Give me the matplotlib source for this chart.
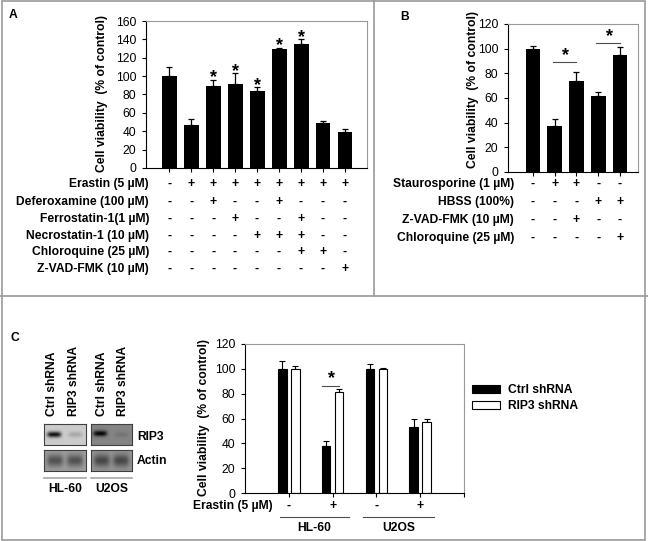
import numpy as np
import matplotlib
matplotlib.use('Agg')
import matplotlib.pyplot as plt
from matplotlib.transforms import blended_transform_factory
from matplotlib.lines import Line2D
from matplotlib.patches import Rectangle

plt.rcParams['font.family'] = ['Liberation Sans', 'DejaVu Sans']
FS = 8.7
STAR_FS = 13

# ---------------- data ----------------
a_values = [100, 47, 89, 91, 84, 129, 135, 49, 39]
a_errors = [10, 6, 7, 12, 4, 2, 5, 2, 3]
a_sig = [False, False, True, True, True, True, True, False, False]
a_rows = ["Erastin (5 µM)", "Deferoxamine (100 µM)", "Ferrostatin-1(1 µM)",
          "Necrostatin-1 (10 µM)", "Chloroquine (25 µM)", "Z-VAD-FMK (10 µM)"]
a_signs = ["-++++++++", "--+--+---", "---+--+--", "----+++--", "------++-", "--------+"]

b_values = [100, 37, 74, 62, 95]
b_errors = [2, 6, 7, 3, 6]
b_rows = ["Staurosporine (1 µM)", "HBSS (100%)", "Z-VAD-FMK (10 µM)", "Chloroquine (25 µM)"]
b_signs = ["-++--", "---++", "--+--", "----+"]
b_brackets = [(1, 2, 89), (3, 4, 105)]

c_ctrl = [100, 38, 100, 53]
c_ctrl_err = [6, 4, 4, 7]
c_rip3 = [100, 81, 100, 57]
c_rip3_err = [2, 3, 1, 3]
c_erastin = ["-", "+", "-", "+"]
c_groups = ["HL-60", "U2OS"]
c_series = ["Ctrl shRNA", "RIP3 shRNA"]
blot_lanes = ["Ctrl shRNA", "RIP3 shRNA", "Ctrl shRNA", "RIP3 shRNA"]
blot_rows = ["RIP3", "Actin"]

W, H = 648, 541
fig = plt.figure(figsize=(W / 100, H / 100), dpi=100)


def fx(x):
    return x / W


def fy(y):
    return 1 - y / H


def add_ax(x0, y0, x1, y1):
    return fig.add_axes([fx(x0), fy(y1), (x1 - x0) / W, (y1 - y0) / H])


def style_axes(ax):
    for s in ['top', 'right']:
        ax.spines[s].set_color('0.6')
        ax.spines[s].set_linewidth(0.8)
    for s in ['left', 'bottom']:
        ax.spines[s].set_color('black')
        ax.spines[s].set_linewidth(0.8)
    ax.tick_params(axis='y', direction='out', length=3, width=0.8, labelsize=FS, pad=4)
    ax.tick_params(axis='x', direction='out', length=3, width=0.8, labelbottom=False)


bold = dict(fontweight='bold', fontsize=FS)

# ---------------- panel borders ----------------
border = '0.6'
fig.add_artist(Rectangle((fx(1.5), fy(539.5)), (645 - 1.5) / W, (539.5 - 0.5) / H,
                         fill=False, edgecolor=border, lw=1.2, transform=fig.transFigure))
fig.add_artist(Line2D([fx(374), fx(374)], [fy(0), fy(296)], color=border, lw=1.2,
                      transform=fig.transFigure))
fig.add_artist(Line2D([fx(0), fx(648)], [fy(296), fy(296)], color=border, lw=1.2,
                      transform=fig.transFigure))

# ---------------- panel A ----------------
axA = add_ax(146, 21, 367, 168)
xa = np.arange(len(a_values))
axA.bar(xa, a_values, width=0.68, color='black', zorder=2)
axA.errorbar(xa, a_values, yerr=[np.zeros(len(a_errors)), a_errors], fmt='none',
             ecolor='black', elinewidth=0.9, capsize=2.5, capthick=0.9, zorder=1)
axA.set_xlim(-1.05, 9.0)
axA.set_ylim(0, 160)
axA.set_yticks(range(0, 161, 20))
axA.set_xticks(xa)
style_axes(axA)
for i, s in enumerate(a_sig):
    if s:
        axA.text(xa[i], a_values[i] + a_errors[i] + 2, '*', ha='center', va='center',
                 fontsize=STAR_FS, fontweight='bold')
fig.text(fx(102), fy(93), "Cell viability  (% of control)", rotation=90,
         ha='center', va='center', **bold)
trA = blended_transform_factory(axA.transData, fig.transFigure)
a_row_y = [184, 202, 219, 236, 252, 269]
for label, signs, y in zip(a_rows, a_signs, a_row_y):
    fig.text(fx(149), fy(y), label, ha='right', va='center', **bold)
    for i, c in enumerate(signs):
        axA.text(xa[i], fy(y), c, ha='center', va='center', transform=trA, **bold)
fig.text(fx(13), fy(15), "A", ha='center', va='center', **bold)

# ---------------- panel B ----------------
axB = add_ax(508, 24, 638, 172)
xb = np.arange(len(b_values))
axB.bar(xb, b_values, width=0.68, color='black', zorder=2)
axB.errorbar(xb, b_values, yerr=[np.zeros(len(b_errors)), b_errors], fmt='none',
             ecolor='black', elinewidth=0.9, capsize=2.5, capthick=0.9, zorder=1)
axB.set_xlim(-1.15, 4.83)
axB.set_ylim(0, 120)
axB.set_yticks(range(0, 121, 20))
axB.set_xticks(xb)
style_axes(axB)
for i0, i1, yv in b_brackets:
    axB.plot([xb[i0] - 0.1, xb[i1]], [yv, yv], color='0.3', lw=0.8)
    axB.text((xb[i0] + xb[i1]) / 2, yv + 5, '*', ha='center', va='center',
             fontsize=STAR_FS, fontweight='bold')
fig.text(fx(473), fy(90), "Cell viability  (% of control)", rotation=90,
         ha='center', va='center', **bold)
trB = blended_transform_factory(axB.transData, fig.transFigure)
b_row_y = [184, 202, 220, 238]
for label, signs, y in zip(b_rows, b_signs, b_row_y):
    fig.text(fx(514), fy(y), label, ha='right', va='center', **bold)
    for i, c in enumerate(signs):
        axB.text(xb[i], fy(y), c, ha='center', va='center', transform=trB, **bold)
fig.text(fx(405), fy(17), "B", ha='center', va='center', **bold)

# ---------------- panel C: blots ----------------
def blot(x0, y0, x1, y1, bg, bands):
    ax = add_ax(x0, y0, x1, y1)
    ny, nx = 30, 60
    yy, xx = np.mgrid[0:1:ny * 1j, 0:1:nx * 1j]
    img = np.full((ny, nx), bg, dtype=float)
    for xc, yc, sx, sy, d in bands:
        img -= d * np.exp(-((xx - xc) / sx) ** 4 - ((yy - yc) / sy) ** 2)
    ax.imshow(np.clip(img, 0, 1), cmap='gray', vmin=0, vmax=1, aspect='auto',
              interpolation='bilinear')
    ax.set_xticks([])
    ax.set_yticks([])
    for s in ax.spines.values():
        s.set_color('0.25')
        s.set_linewidth(0.8)
    return ax


blot(44, 424, 86, 445, 0.80, [(0.24, 0.5, 0.17, 0.14, 0.74), (0.75, 0.5, 0.17, 0.14, 0.14)])
blot(91, 424, 132, 445, 0.52, [(0.22, 0.45, 0.17, 0.14, 0.50), (0.75, 0.5, 0.17, 0.14, 0.06)])
blot(44, 450, 86, 471, 0.62, [(0.26, 0.5, 0.2, 0.3, 0.30), (0.74, 0.5, 0.2, 0.3, 0.30)])
blot(91, 450, 132, 471, 0.58, [(0.26, 0.5, 0.2, 0.3, 0.30), (0.74, 0.5, 0.2, 0.3, 0.30)])

for x, lab in zip([52, 74, 102, 123], blot_lanes):
    fig.text(fx(x), fy(416), lab, rotation=90, ha='center', va='bottom', **bold)
for y, lab in zip([437, 461], blot_rows):
    fig.text(fx(137), fy(y), lab, ha='left', va='center', **bold)
for (x0, x1), lab in zip([(44, 86), (91, 132)], c_groups):
    fig.add_artist(Line2D([fx(x0), fx(x1)], [fy(478), fy(478)], color='0.65', lw=1.2,
                          transform=fig.transFigure))
    fig.text(fx((x0 + x1) / 2), fy(489), lab, ha='center', va='center', **bold)
fig.text(fx(15), fy(338), "C", ha='center', va='center', **bold)

# ---------------- panel C: bar chart ----------------
axC = add_ax(245, 344, 464, 493)
xc = np.arange(len(c_ctrl))
off, bw = 0.148, 0.2
axC.bar(xc - off, c_ctrl, width=bw, color='black', edgecolor='black', lw=0.8,
        label=c_series[0], zorder=2)
axC.bar(xc + off, c_rip3, width=bw, color='white', edgecolor='black', lw=0.8,
        label=c_series[1], zorder=2)
axC.errorbar(xc - off, c_ctrl, yerr=[np.zeros(4), c_ctrl_err], fmt='none', ecolor='black',
             elinewidth=0.8, capsize=2.5, capthick=0.8, zorder=1)
axC.errorbar(xc + off, c_rip3, yerr=[np.zeros(4), c_rip3_err], fmt='none', ecolor='black',
             elinewidth=0.8, capsize=2.5, capthick=0.8, zorder=1)
axC.set_xlim(-1, 4)
axC.set_ylim(0, 120)
axC.set_yticks(range(0, 121, 20))
axC.set_xticks(list(xc) + [4])
style_axes(axC)
axC.plot([1 - off - 0.1, 1 + off], [86.4, 86.4], color='0.3', lw=0.8)
axC.text(1 - 0.03, 92.5, '*', ha='center', va='center', fontsize=STAR_FS, fontweight='bold')
fig.text(fx(204), fy(418), "Cell viability  (% of control)", rotation=90,
         ha='center', va='center', **bold)
trC = blended_transform_factory(axC.transData, fig.transFigure)
fig.text(fx(273), fy(506), "Erastin (5 µM)", ha='right', va='center', **bold)
for i, c in enumerate(c_erastin):
    axC.text(xc[i], fy(506), c, ha='center', va='center', transform=trC, **bold)
for (g0, g1), lab in zip([(-0.19, 1.37), (1.69, 3.31)], c_groups):
    axC.add_artist(Line2D([g0, g1], [fy(517), fy(517)], color='0.3', lw=0.8,
                          transform=trC, clip_on=False))
    axC.text((g0 + g1) / 2, fy(528), lab, ha='center', va='center', transform=trC, **bold)

leg = axC.legend(loc='upper left', bbox_to_anchor=(fx(472), fy(384)),
                 bbox_transform=fig.transFigure, frameon=False, borderpad=0,
                 borderaxespad=0, handlelength=2.3, handleheight=0.6,
                 handletextpad=0.7, labelspacing=0.35, prop=dict(weight='bold', size=FS))

fig.savefig('out.png', dpi=100)
